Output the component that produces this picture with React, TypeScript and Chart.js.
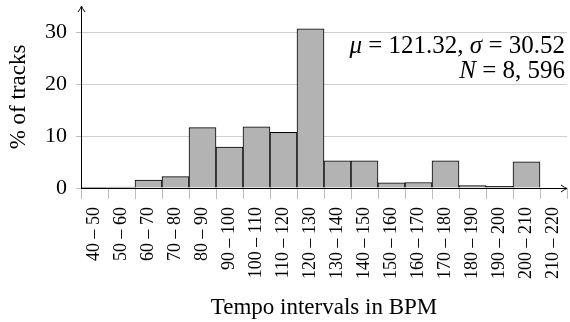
import { useEffect, useRef } from 'react';
import { Chart, registerables } from 'chart.js';
Chart.register(...registerables);

const binLabels = ['40 – 50','50 – 60','60 – 70','70 – 80','80 – 90','90 – 100','100 – 110','110 – 120','120 – 130','130 – 140','140 – 150','150 – 160','160 – 170','170 – 180','180 – 190','190 – 200','200 – 210','210 – 220'];
const trackPercents = [0.05,0.2,1.5,2.2,11.6,7.85,11.75,10.7,30.6,5.23,5.23,1.0,1.05,5.23,0.45,0.3,5.05,0];
const yTicks = [0,10,20,30];
const yMax = 35;
const xTitle = 'Tempo intervals in BPM';
const yTitle = '% of tracks';
const statMean = '121.32';
const statSd = '30.52';
const statN = '8, 596';

const SERIF = '"Liberation Serif", "Times New Roman", serif';

function drawSegments(ctx: CanvasRenderingContext2D, segs: [string, boolean][], right: number, baseline: number, size: number) {
  let total = 0;
  const widths: number[] = [];
  for (const [t, it] of segs) {
    ctx.font = `${it ? 'italic ' : ''}${size}px ${SERIF}`;
    const w = ctx.measureText(t).width;
    widths.push(w);
    total += w;
  }
  let x = right - total;
  ctx.textAlign = 'left';
  ctx.textBaseline = 'alphabetic';
  segs.forEach(([t, it], i) => {
    ctx.font = `${it ? 'italic ' : ''}${size}px ${SERIF}`;
    ctx.fillText(t, x, baseline);
    x += widths[i];
  });
}

const decorPlugin = {
  id: 'decor',
  afterDraw(chart: any) {
    const ctx: CanvasRenderingContext2D = chart.ctx;
    const { left, right, top, bottom } = chart.chartArea;
    ctx.save();
    ctx.strokeStyle = '#000';
    ctx.fillStyle = '#000';
    ctx.lineWidth = 1;
    ctx.beginPath();
    ctx.moveTo(left + 0.5, bottom);
    ctx.lineTo(left + 0.5, top);
    ctx.stroke();
    ctx.beginPath();
    ctx.moveTo(left + 0.5 - 3.5, top + 6);
    ctx.quadraticCurveTo(left + 0.5 - 0.5, top + 2, left + 0.5, top);
    ctx.quadraticCurveTo(left + 0.5 + 0.5, top + 2, left + 0.5 + 3.5, top + 6);
    ctx.stroke();
    ctx.beginPath();
    ctx.moveTo(left, bottom + 0.5);
    ctx.lineTo(right, bottom + 0.5);
    ctx.stroke();
    ctx.beginPath();
    ctx.moveTo(right - 6, bottom + 0.5 - 3.5);
    ctx.quadraticCurveTo(right - 2, bottom + 0.5 - 0.5, right, bottom + 0.5);
    ctx.quadraticCurveTo(right - 2, bottom + 0.5 + 0.5, right - 6, bottom + 0.5 + 3.5);
    ctx.stroke();
    ctx.font = `23px ${SERIF}`;
    ctx.textAlign = 'center';
    ctx.textBaseline = 'alphabetic';
    ctx.fillText(xTitle, 324, 314);
    ctx.save();
    ctx.translate(25, 97);
    ctx.rotate(-Math.PI / 2);
    ctx.font = `23px ${SERIF}`;
    ctx.textAlign = 'center';
    ctx.fillText(yTitle, 0, 0);
    ctx.restore();
    drawSegments(ctx, [['μ', true], [' = ' + statMean + ', ', false], ['σ', true], [' = ' + statSd, false]], 565, 53, 25);
    drawSegments(ctx, [['N', true], [' = ' + statN, false]], 565, 78, 25);
    ctx.restore();
  },
};

export default function App() {
  const ref = useRef<HTMLCanvasElement | null>(null);
  useEffect(() => {
    document.body.style.margin = '0';
    const chart = new Chart(ref.current!, {
      type: 'bar',
      data: {
        labels: binLabels,
        datasets: [{
          data: trackPercents,
          backgroundColor: '#b3b3b3',
          borderColor: '#000',
          borderWidth: 1,
          barPercentage: 1,
          categoryPercentage: 1,
        }],
      },
      options: {
        animation: false,
        responsive: false,
        devicePixelRatio: 1,
        layout: { padding: { top: 6, right: 3, left: 0, bottom: 0 } },
        plugins: { legend: { display: false }, tooltip: { enabled: false } },
        scales: {
          x: {
            offset: true,
            grid: { display: true, drawOnChartArea: false, drawTicks: true, tickLength: 11, tickColor: '#bdbdbd', offset: true },
            border: { display: false },
            ticks: { minRotation: 90, maxRotation: 90, autoSkip: false, padding: 8, color: '#000', font: { family: SERIF, size: 18 } },
            afterFit(scale: any) { scale.height = 134; scale.paddingLeft = 0; scale.paddingRight = 0; },
          },
          y: {
            min: 0,
            max: yMax,
            grid: { color: '#cfcfcf', tickLength: 5, tickColor: '#bdbdbd', drawTicks: true },
            border: { display: false },
            ticks: { padding: 9, color: '#000', font: { family: SERIF, size: 22 } },
            afterBuildTicks(scale: any) { scale.ticks = yTicks.map((v) => ({ value: v })); },
            afterFit(scale: any) { scale.width = 81; scale.paddingTop = 0; scale.paddingBottom = 0; },
          },
        },
      },
      plugins: [decorPlugin],
    });
    return () => chart.destroy();
  }, []);
  return <canvas ref={ref} width={570} height={322} style={{ display: 'block' }} />;
}
